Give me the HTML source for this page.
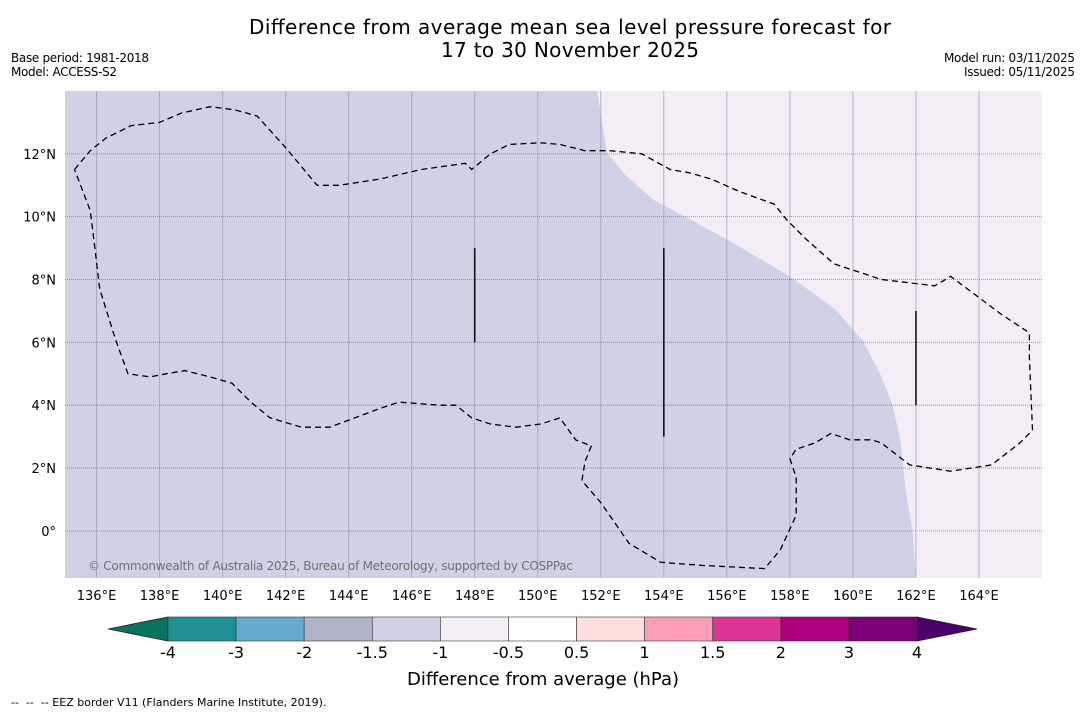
<!DOCTYPE html>
<html><head><meta charset="utf-8">
<style>
html,body{margin:0;padding:0;background:#fff;}
svg{display:block;font-family:"DejaVu Sans","Liberation Sans",sans-serif;}
</style></head>
<body>
<svg id="chart" width="1085" height="713" viewBox="0 0 1085 713">
<text x="570" y="34" font-size="20" text-anchor="middle" textLength="642">Difference from average mean sea level pressure forecast for</text>
<text x="570" y="57" font-size="20" text-anchor="middle" textLength="258">17 to 30 November 2025</text>
<text x="11" y="62" font-size="12" textLength="138">Base period: 1981-2018</text>
<text x="11" y="76" font-size="12" textLength="106">Model: ACCESS-S2</text>
<text x="1075" y="62" font-size="12" text-anchor="end" textLength="131">Model run: 03/11/2025</text>
<text x="1075" y="76" font-size="12" text-anchor="end" textLength="111">Issued: 05/11/2025</text>
<defs><clipPath id="mapclip"><rect x="65" y="91" width="977" height="487"/></clipPath></defs>
<g id="map" clip-path="url(#mapclip)"></g>
<g id="axes"></g>
<g id="cbar"></g>
<text x="543" y="685" font-size="18" text-anchor="middle">Difference from average (hPa)</text>
<text x="11" y="706" font-size="11" xml:space="preserve">--  --  -- EEZ border V11 (Flanders Marine Institute, 2019).</text>
</svg>
<script>
const lonTicks=[136,138,140,142,144,146,148,150,152,154,156,158,160,162,164];
const latTicks=[0,2,4,6,8,10,12];
const latLabels=["0°","2°N","4°N","6°N","8°N","10°N","12°N"];
// boundary between -1.5..-1 band (west) and -1..-0.5 band (east)
const shadeLon=[151.89,152.05,152.2,152.78,153.67,154.62,156.02,158.11,159.44,160.33,160.87,161.25,161.5,161.67,161.89,162.0];
const shadeLat=[14,12.92,12.03,11.33,10.54,10.03,9.27,8.03,7.05,6.03,4.98,4.03,2.92,1.33,0.03,-1.5];
const eezLon=[135.3,135.8,136.3,137.1,138.0,138.7,139.6,140.4,141.1,142.0,143.0,143.7,145.0,146.3,147.7,147.9,148.5,149.1,150.1,150.7,151.5,152.3,153.3,154.2,154.8,155.5,156.4,157.5,157.9,158.5,159.4,160.9,162.6,163.1,163.9,164.7,165.6,165.6,165.7,165.3,164.4,163.1,161.8,160.9,160.6,159.9,159.3,158.8,158.2,158.0,158.2,158.2,157.7,157.2,155.2,153.9,152.9,152.0,151.4,151.5,151.7,151.2,150.7,150.1,149.3,148.5,147.9,147.4,146.9,145.6,145.0,144.2,143.4,142.5,141.5,140.9,140.3,139.6,138.8,138.2,137.7,137.0,136.6,136.1,135.95,135.8,135.3];
const eezLat=[11.5,12.1,12.5,12.9,13.0,13.3,13.5,13.4,13.2,12.2,11.0,11.0,11.2,11.5,11.7,11.5,12.0,12.3,12.35,12.3,12.1,12.1,12.0,11.5,11.4,11.2,10.8,10.4,9.9,9.3,8.5,8.0,7.8,8.1,7.5,6.9,6.3,5.5,3.2,2.8,2.1,1.9,2.1,2.8,2.9,2.9,3.1,2.8,2.6,2.3,1.7,0.5,-0.6,-1.2,-1.1,-1.0,-0.4,0.9,1.6,2.2,2.7,2.9,3.6,3.4,3.3,3.4,3.6,4.0,4.0,4.1,3.9,3.6,3.3,3.3,3.6,4.1,4.7,4.9,5.1,5.0,4.9,5.0,6.1,7.7,9.0,10.2,11.5];
const segLon=[148,154,162];
const segLat0=[6,3,4];
const segLat1=[9,9,7];
const cbBounds=[-4,-3,-2,-1.5,-1,-0.5,0.5,1,1.5,2,3,4];
const cbColors=["#1f9094","#67aacf","#b0b4c9","#d0d1e6","#f4eef6","#ffffff","#fde0dd","#fa9fb5","#dd3497","#ae017e","#7a0177"];
const cbUnder="#0a735f", cbOver="#49006a";

const NS="http://www.w3.org/2000/svg";
const X0=65,X1=1042,Y0=91,Y1=578,LON0=135,LON1=166,LAT0=-1.5,LAT1=14;
const xs=l=>X0+(l-LON0)/(LON1-LON0)*(X1-X0);
const ys=l=>Y1-(l-LAT0)/(LAT1-LAT0)*(Y1-Y0);
function mk(t,a,p){const e=document.createElementNS(NS,t);for(const k in a)e.setAttribute(k,a[k]);p.appendChild(e);return e;}
const map=document.getElementById('map'),axes=document.getElementById('axes'),cb=document.getElementById('cbar');

let r=mk('rect',{x:X0,y:Y0,width:X1-X0,height:Y1-Y0,fill:'#f4edf6'},map);


let d='M'+X0+','+Y0;
for(let i=0;i<shadeLon.length;i++)d+=' L'+xs(shadeLon[i]).toFixed(1)+','+ys(shadeLat[i]).toFixed(1);
d+=' L'+X0+','+Y1+' Z';
let p=mk('path',{d:d,fill:'#d0d1e6'},map);



lonTicks.forEach(l=>{
  let g=mk('line',{x1:xs(l),x2:xs(l),y1:Y0,y2:Y1,stroke:'#9a9ab0','stroke-width':1,'stroke-opacity':0.7},map);
  
  
  let t=mk('text',{x:xs(l),y:Y1+22,'font-size':13,'text-anchor':'middle'},axes);t.textContent=l+'°E';
  
  
});
latTicks.forEach((l,i)=>{
  let g=mk('line',{x1:X0,x2:X1,y1:ys(l),y2:ys(l),stroke:'#777','stroke-width':1,'stroke-dasharray':'1,1','stroke-opacity':0.7},map);
  
  
  let t=mk('text',{x:X0-9,y:ys(l)+5,'font-size':13,'text-anchor':'end'},axes);t.textContent=latLabels[i];
  
  
});
let ed='';
for(let i=0;i<eezLon.length;i++)ed+=(i?' L':'M')+xs(eezLon[i]).toFixed(1)+','+ys(eezLat[i]).toFixed(1);
let e=mk('path',{d:ed,fill:'none',stroke:'#000','stroke-width':1.3,'stroke-dasharray':'6,4'},map);


segLon.forEach((l,i)=>{
  let s=mk('line',{x1:xs(l),x2:xs(l),y1:ys(segLat0[i]),y2:ys(segLat1[i]),stroke:'#111','stroke-width':1.6},map);
  
  
});
let c=mk('text',{x:88,y:570,'font-size':12,fill:'#666','fill-opacity':0.9,textLength:485},map);
c.textContent='© Commonwealth of Australia 2025, Bureau of Meteorology, supported by COSPPac';



// colorbar
const CB0=168,CB1=917,CY=617,CH=24;
const cx=i=>CB0+i*(CB1-CB0)/(cbBounds.length-1);
let u=mk('polygon',{points:`${CB0},${CY} ${CB0},${CY+CH} 108,${CY+CH/2}`,fill:cbUnder,stroke:'#222','stroke-width':0.8},cb);


let o=mk('polygon',{points:`${CB1},${CY} ${CB1},${CY+CH} 977,${CY+CH/2}`,fill:cbOver,stroke:'#222','stroke-width':0.8},cb);


cbColors.forEach((col,i)=>{
  let b=mk('rect',{x:cx(i),y:CY,width:cx(i+1)-cx(i),height:CH,fill:col,stroke:'#333','stroke-width':0.6},cb);
  
  
});
cbBounds.forEach((v,i)=>{
  let t=mk('text',{x:cx(i),y:658,'font-size':16,'text-anchor':'middle'},cb);t.textContent=v;
  
  
});
</script>
</body></html>
